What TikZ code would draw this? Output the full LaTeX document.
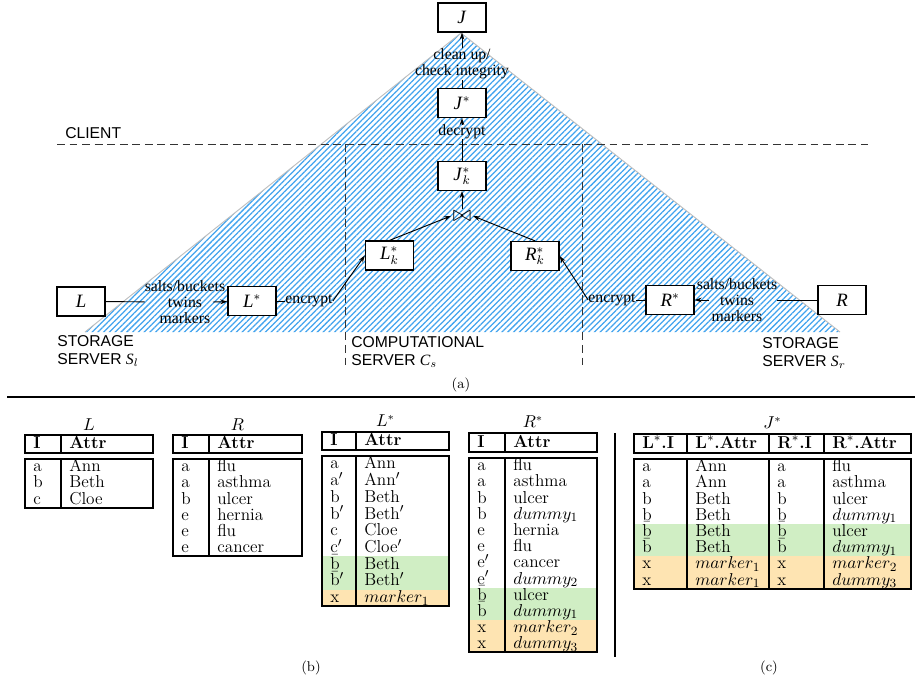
\documentclass[tikz,border=0pt]{standalone}
\usepackage{fontspec}
\newfontfamily\serf{Liberation Serif}
\newfontfamily\sansf{Liberation Sans}
\usetikzlibrary{arrows.meta,patterns.meta}
\definecolor{hatch}{RGB}{65,163,238}
\definecolor{greenrow}{RGB}{208,238,196}
\definecolor{orangerow}{RGB}{254,228,178}

\tikzset{
  box/.style={draw, fill=white, line width=0.8pt, minimum width=30.6pt, minimum height=18.5pt, inner sep=0pt, font=\serf\fontsize{12}{14}\selectfont},
  lbl/.style={inner sep=0pt, align=center, font=\serf\fontsize{10}{10.3}\selectfont},
  zone/.style={anchor=west, align=left, inner sep=0pt, font=\sansf\fontsize{10}{11.5}\selectfont},
  arr/.style={-{Stealth[length=4.5pt,width=3pt]}, line width=0.6pt},
  border/.style={dash pattern=on 5pt off 3pt, line width=0.6pt, black!80},
  tab/.style={line width=1.2pt},
  cell/.style={anchor=base west, inner sep=0pt, font=\fontsize{11}{10}\selectfont},
  hd/.style={cell, font=\fontsize{11}{10}\selectfont\bfseries},
  ttl/.style={inner sep=0pt, font=\fontsize{10.5}{10}\selectfont},
  subcap/.style={inner sep=0pt, font=\fontsize{9}{9}\selectfont},
}

\begin{document}
\begin{tikzpicture}[x=0.637pt, y=-0.637pt]
\useasboundingbox (0,0) rectangle (920,684);

% (a) hatched area
\fill[pattern={Lines[angle=45,distance=2.6pt,line width=0.8pt]}, pattern color=hatch] (85,332) -- (461,33) -- (840,332) -- cycle;
\draw[gray!50, line width=0.6pt] (85,332) -- (461,33) -- (840,332);

\draw[border] (57,144) -- (868,144);
\draw[border] (345,144) -- (345,370);
\draw[border] (582,144) -- (582,370);

\node[zone] (client) at (65,133) {CLIENT};
\node[zone] (stL) at (57,351) {STORAGE\\SERVER\ {\serf\itshape S}$_l$};
\node[zone] (comp) at (351,352) {COMPUTATIONAL\\SERVER\ {\serf\itshape C}$_s$};
\node[zone] (stR) at (762,353) {STORAGE\\SERVER\ {\serf\itshape S}$_r$};

\node[box] (J) at (462,17.5) {\textit{J}};
\node[box] (Js) at (462,103) {\textit{J}$^*$};
\node[box] (Jk) at (462,176) {\textit{J}$^*_k$};
\node[inner sep=1pt, font=\fontsize{14}{14}\selectfont] (join) at (462,216) {$\bowtie$};
\node[box] (Lk) at (389.5,255.5) {\textit{L}$^*_k$};
\node[box] (Rk) at (535,256) {\textit{R}$^*_k$};
\node[box] (L) at (81,301.5) {\textit{L}};
\node[box] (Ls) at (252,301) {\textit{L}$^*$};
\node[box] (Rs) at (670,300) {\textit{R}$^*$};
\node[box] (R) at (842,300) {\textit{R}};

\node[lbl] (sL) at (185,302) {salts/buckets\\twins\\markers};
\node[lbl] (sR) at (737,300) {salts/buckets\\twins\\markers};
\node[lbl] (eL) at (309,301) {encrypt};
\node[lbl] (eR) at (612,300) {encrypt};
\node[lbl] (dec) at (462,132) {decrypt};
\node[lbl] (cln) at (462,64) {clean up/\\check integrity};

\draw[line width=0.6pt] (L) -- (sL);
\draw[arr] ([xshift=-8pt]sL.east) -- (Ls);
\draw[line width=0.6pt] (Ls) -- (eL);
\draw[arr] (eL.east) -- (Lk.west);
\draw[arr] (Lk.north) -- (join.west);
\draw[line width=0.6pt] (R) -- (sR);
\draw[arr] ([xshift=8pt]sR.west) -- (Rs);
\draw[line width=0.6pt] (Rs) -- (eR);
\draw[arr] (eR.west) -- (Rk.east);
\draw[arr] (Rk.north) -- (join.east);
\draw[arr] (join) -- (Jk);
\draw[line width=0.6pt] (Jk) -- (dec);
\draw[arr] (dec) -- (Js);
\draw[line width=0.6pt] (Js) -- (cln);
\draw[arr] (cln) -- (J);

\node[subcap] (capa) at (461,385) {(a)};
\draw[line width=1.6pt] (7,397) -- (915,397);

% (b) table L
\node[ttl] (tL) at (89,425) {$L$};
\draw[tab] (25,435) rectangle (153,453) (61,435) -- (61,453);
\node[hd] (hL1) at (33,448.5) {I};
\node[hd] (hL2) at (69,448.5) {Attr};
\draw[tab] (25,459) rectangle (153,507.6) (61,459) -- (61,507.6);
\foreach \a/\b [count=\i from 0] in {a/Ann,b/Beth,c/Cloe}
  {\node[cell] (L-\i-a) at (33,471.6+16.2*\i) {\a};
   \node[cell] (L-\i-b) at (69,471.6+16.2*\i) {\b};}

% table R
\node[ttl] (tR) at (237.5,425) {$R$};
\draw[tab] (173,435) rectangle (302,453) (209,435) -- (209,453);
\node[hd] (hR1) at (181,448.5) {I};
\node[hd] (hR2) at (217,448.5) {Attr};
\draw[tab] (173,459) rectangle (302,556.2) (209,459) -- (209,556.2);
\foreach \a/\b [count=\i from 0] in {a/flu,a/asthma,b/ulcer,e/hernia,e/flu,e/cancer}
  {\node[cell] (R-\i-a) at (181,471.6+16.2*\i) {\a};
   \node[cell] (R-\i-b) at (217,471.6+16.2*\i) {\b};}

% table L*
\node[ttl] (tLs) at (385.5,421) {$L^*$};
\draw[tab] (322,432) rectangle (449,450) (356,432) -- (356,450);
\node[hd] (hLs1) at (330,445.5) {I};
\node[hd] (hLs2) at (364,445.5) {Attr};
\fill[greenrow] (322,556.2) rectangle (449,589.6);
\fill[orangerow] (322,589.6) rectangle (449,606.3);
\draw[tab] (322,456) rectangle (449,606.3) (356,456) -- (356,606.3);
\foreach \a/\b [count=\i from 0] in {a/Ann,a$'$/Ann$'$,b/Beth,b$'$/Beth$'$,c/Cloe,c$'$/Cloe$'$,$\bar{\mathrm{b}}$/Beth,$\bar{\mathrm{b}}'$/Beth$'$,x/$marker_1$}
  {\node[cell] (Ls-\i-a) at (330,468.9+16.7*\i) {\a};
   \node[cell] (Ls-\i-b) at (364,468.9+16.7*\i) {\b};}

% table R*
\node[ttl] (tRs) at (533,422) {$R^*$};
\draw[tab] (469,433) rectangle (597,452) (505,433) -- (505,452);
\node[hd] (hRs1) at (477,447) {I};
\node[hd] (hRs2) at (513,447) {Attr};
\fill[greenrow] (469,587.6) rectangle (597,620);
\fill[orangerow] (469,620) rectangle (597,652.4);
\draw[tab] (469,458) rectangle (597,652.4) (505,458) -- (505,652.4);
\foreach \a/\b [count=\i from 0] in {a/flu,a/asthma,b/ulcer,b/$dummy_1$,e/hernia,e/flu,e$'$/cancer,e$'$/$dummy_2$,$\bar{\mathrm{b}}$/ulcer,$\bar{\mathrm{b}}$/$dummy_1$,x/$marker_2$,x/$dummy_3$}
  {\node[cell] (Rs-\i-a) at (477,470.6+16.2*\i) {\a};
   \node[cell] (Rs-\i-b) at (513,470.6+16.2*\i) {\b};}

\draw[line width=1.2pt] (615,433) -- (615,657);

% (c) table J*
\node[ttl] (tJs) at (772.5,423) {$J^*$};
\draw[tab] (634,434) rectangle (911,453) (687,434) -- (687,453) (769,434) -- (769,453) (824,434) -- (824,453);
\node[hd] (hJ1) at (642,448) {L$^*$.I};
\node[hd] (hJ2) at (695,448) {L$^*$.Attr};
\node[hd] (hJ3) at (777,448) {R$^*$.I};
\node[hd] (hJ4) at (832,448) {R$^*$.Attr};
\fill[greenrow] (634,523.8) rectangle (911,556.2);
\fill[orangerow] (634,556.2) rectangle (911,588.6);
\draw[tab] (634,459) rectangle (911,588.6) (687,459) -- (687,588.6) (769,459) -- (769,588.6) (824,459) -- (824,588.6);
\foreach \a/\b/\c/\d [count=\i from 0] in {a/Ann/a/flu,a/Ann/a/asthma,b/Beth/b/ulcer,b/Beth/b/$dummy_1$,$\bar{\mathrm{b}}$/Beth/$\bar{\mathrm{b}}$/ulcer,$\bar{\mathrm{b}}$/Beth/$\bar{\mathrm{b}}$/$dummy_1$,x/$marker_1$/x/$marker_2$,x/$marker_1$/x/$dummy_3$}
  {\node[cell] (J-\i-a) at (642,471.6+16.2*\i) {\a};
   \node[cell] (J-\i-b) at (695,471.6+16.2*\i) {\b};
   \node[cell] (J-\i-c) at (777,471.6+16.2*\i) {\c};
   \node[cell] (J-\i-d) at (832,471.6+16.2*\i) {\d};}

\node[subcap] (capb) at (311,668) {(b)};
\node[subcap] (capc) at (769,668) {(c)};

\end{tikzpicture}
\end{document}
